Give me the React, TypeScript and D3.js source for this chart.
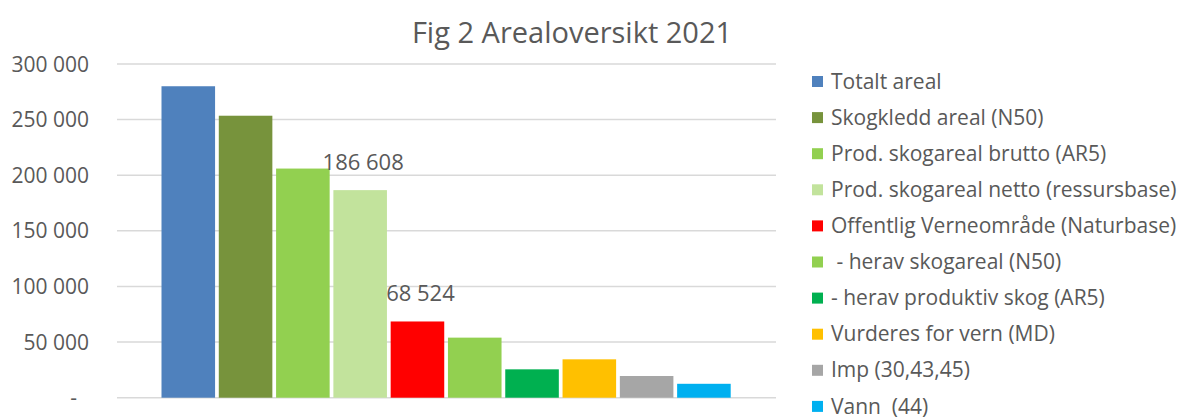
import React from "react";
import * as d3 from "d3";

const seriesNames = [
  "Totalt areal",
  "Skogkledd areal (N50)",
  "Prod. skogareal brutto (AR5)",
  "Prod. skogareal netto (ressursbase)",
  "Offentlig Verneområde (Naturbase)",
  " - herav skogareal (N50)",
  "- herav produktiv skog (AR5)",
  "Vurderes for vern (MD)",
  "Imp (30,43,45)",
  "Vann  (44)",
];
const seriesValues = [280000, 253500, 206000, 186608, 68524, 54000, 25500, 34500, 19500, 12500];
const seriesColors = [
  "#4f81bd", "#77933c", "#92d050", "#c2e39c", "#ff0000",
  "#92d050", "#00b050", "#ffc000", "#a6a6a6", "#00b0f0",
];
const showLabel = [false, false, false, true, true, false, false, false, false, false];
const yTicks = [0, 50000, 100000, 150000, 200000, 250000, 300000];
const title = "Fig 2 Arealoversikt 2021";

const W = 1183;
const H = 417;
const FONT = "'Open Sans', sans-serif";
const TEXT = "#595959";

const fmt = (v: number) => (v === 0 ? "-" : d3.format(",")(v).replace(/,/g, " "));

export default function App() {
  const y = d3.scaleLinear().domain([0, 300000]).range([397.7, 64]);
  const x = d3.scaleBand<string>().domain(seriesNames).range([161.5, 730.7]).paddingInner(0.065).paddingOuter(0);
  const gridX1 = 117;
  const gridX2 = 776;
  const legendX = 812;
  const legendY0 = 81.5;
  const legendStep = 36.1;

  return (
    <svg width={W} height={H} style={{ position: "absolute", left: 0, top: 0, background: "#fff" }}>
      <text x={572} y={43} textAnchor="middle" fontFamily={FONT} fontSize={29} fill={TEXT}>
        {title}
      </text>
      {yTicks.map((t) => (
        <g key={t}>
          <line x1={gridX1} x2={gridX2} y1={y(t)} y2={y(t)} stroke="#d9d9d9" strokeWidth={1.5} />
          <text
            x={t === 0 ? 77 : 89}
            y={y(t)}
            dy="0.36em"
            textAnchor="end"
            fontFamily={FONT}
            fontSize={21}
            fill={TEXT}
          >
            {fmt(t)}
          </text>
        </g>
      ))}
      {seriesNames.map((n, i) => (
        <rect
          key={n + i}
          x={x(n)}
          y={y(seriesValues[i])}
          width={x.bandwidth()}
          height={y(0) - y(seriesValues[i])}
          fill={seriesColors[i]}
        />
      ))}
      {seriesNames.map((n, i) =>
        showLabel[i] ? (
          <text
            key={"l" + i}
            x={(x(n) as number) + x.bandwidth() / 2 + 3}
            y={y(seriesValues[i]) - 20}
            textAnchor="middle"
            fontFamily={FONT}
            fontSize={22}
            fill={TEXT}
          >
            {fmt(seriesValues[i])}
          </text>
        ) : null
      )}
      {seriesNames.map((n, i) => (
        <g key={"lg" + i} transform={`translate(${legendX},${legendY0 + i * legendStep})`}>
          <rect x={0} y={-5.5} width={11} height={11} fill={seriesColors[i]} />
          <text x={19} y={0} dy="0.34em" fontFamily={FONT} fontSize={21} fill={TEXT} style={{ whiteSpace: "pre" }}>
            {n}
          </text>
        </g>
      ))}
    </svg>
  );
}
